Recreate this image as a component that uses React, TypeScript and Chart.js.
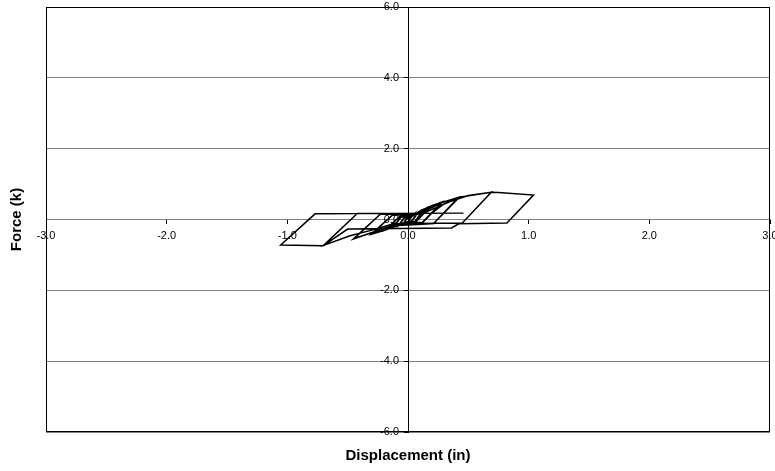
import React, { useEffect, useRef } from "react";
import { Chart, registerables } from "chart.js";

Chart.register(...registerables);

// Tick labels
const xTickLabels = ["-3.0", "-2.0", "-1.0", "0.0", "1.0", "2.0", "3.0"];
const yTickLabels = ["-6.0", "-4.0", "-2.0", "0.0", "2.0", "4.0", "6.0"];

// Hysteresis cycles: displacement (in) and force (k)
const c1Disp = [0, 0.04, 0.0, -0.04, 0.0, 0.04, 0.0, -0.04, -0.01];
const c1Force = [0, 0.12, -0.06, -0.12, 0.06, 0.12, -0.06, -0.12, 0.05];

const c2Disp = [0.08, 0.03, -0.02, -0.08, -0.03, 0.02, 0.08, 0.03, -0.02, -0.08, -0.03];
const c2Force = [0.18, -0.04, -0.08, -0.18, 0.05, 0.08, 0.17, -0.05, -0.09, -0.17, 0.06];

const c3Disp = [0.04, 0.12, 0.06, -0.04, -0.12, -0.06, 0.04, 0.12, 0.06, -0.05, -0.12, -0.06];
const c3Force = [0.1, 0.24, -0.05, -0.1, -0.22, 0.06, 0.11, 0.23, -0.06, -0.11, -0.21, 0.07];

const c4Disp = [0.04, 0.11, 0.18, 0.06, -0.05, -0.12, -0.19, -0.07, 0.05, 0.18, 0.07, -0.06, -0.19, -0.07];
const c4Force = [0.11, 0.26, 0.36, -0.05, -0.1, -0.22, -0.3, 0.08, 0.12, 0.34, -0.05, -0.11, -0.29, 0.08];

const c5Disp = [0.06, 0.16, 0.28, 0.12, -0.08, -0.18, -0.3, -0.13, 0.08, 0.28, 0.12, -0.1, -0.3, -0.13];
const c5Force = [0.13, 0.34, 0.49, -0.08, -0.12, -0.29, -0.41, 0.12, 0.15, 0.47, -0.09, -0.14, -0.4, 0.12];

const c6Disp = [0.1, 0.2, 0.42, 0.21, -0.1, -0.28, -0.45, -0.23, 0.12, 0.42, 0.21, -0.14, -0.45, -0.23];
const c6Force = [0.17, 0.4, 0.63, -0.12, -0.14, -0.35, -0.55, 0.15, 0.17, 0.61, -0.12, -0.18, -0.54, 0.15];

const c7Disp = [0.12, 0.22, 0.45, 0.69, 0.45, -0.12, -0.3, -0.48, -0.7, -0.42];
const c7Force = [0.16, 0.42, 0.64, 0.77, -0.1, -0.12, -0.3, -0.46, -0.73, 0.17];

const c8Disp = [0.2, 0.3, 0.5, 0.69, 0.75, 1.04, 0.82, 0.42, 0.36, -0.5, -0.62, -0.7, -1.055, -0.77, 0.46];
const c8Force = [0.18, 0.45, 0.68, 0.77, 0.76, 0.69, -0.1, -0.12, -0.24, -0.27, -0.55, -0.74, -0.72, 0.16, 0.18];

const cycles: [number[], number[]][] = [
  [c1Disp, c1Force],
  [c2Disp, c2Force],
  [c3Disp, c3Force],
  [c4Disp, c4Force],
  [c5Disp, c5Force],
  [c6Disp, c6Force],
  [c7Disp, c7Force],
  [c8Disp, c8Force],
];

const FONT = "'Liberation Sans', Arial, sans-serif";

// Draws the plot-area frame
const framePlugin = {
  id: "frame",
  afterDatasetsDraw(chart: any) {
    const { ctx, chartArea } = chart;
    ctx.save();
    ctx.strokeStyle = "#000";
    ctx.lineWidth = 1;
    const l = Math.round(chartArea.left) + 0.5;
    const t = Math.round(chartArea.top) + 0.5;
    const r = Math.round(chartArea.right) - 0.5;
    const b = Math.round(chartArea.bottom) - 0.5;
    ctx.strokeRect(l, t, r - l, b - t);
    ctx.restore();
  },
};

// Places the tick labels of the crossing axes beside their axis lines
const labelPlacePlugin = {
  id: "labelPlace",
  beforeDraw(chart: any) {
    const xs = chart.scales.x;
    const ys = chart.scales.y;
    const axisX = xs.getPixelForValue(0);
    const axisY = ys.getPixelForValue(0);
    ys.getLabelItems().forEach((it: any) => {
      it.options.translation[0] = axisX - 9;
      it.options.textAlign = "right";
    });
    xs.getLabelItems().forEach((it: any) => {
      it.options.translation[1] = axisY + 10;
    });
  },
};

export default function App() {
  const ref = useRef<HTMLCanvasElement | null>(null);

  useEffect(() => {
    document.body.style.margin = "0";
    const canvas = ref.current;
    if (!canvas) return;
    const points: { x: number; y: number }[] = [];
    cycles.forEach(([d, f]) => {
      d.forEach((x, i) => points.push({ x, y: f[i] }));
    });

    const chart = new Chart(canvas, {
      type: "scatter",
      data: {
        datasets: [
          {
            data: points,
            showLine: true,
            borderColor: "#000",
            borderWidth: 1.5,
            pointRadius: 0,
            pointHoverRadius: 0,
            fill: false,
            tension: 0,
          },
        ],
      },
      options: {
        animation: false,
        responsive: false,
        devicePixelRatio: 1,
        layout: { padding: { top: 7, right: 5, left: 0, bottom: 0 } },
        plugins: {
          legend: { display: false },
          tooltip: { enabled: false },
          title: {
            display: true,
            text: "Displacement (in)",
            position: "bottom",
            fullSize: false,
            color: "#000",
            font: { family: FONT, size: 15, weight: "bold" },
            padding: { top: 15, bottom: 6 },
          },
          subtitle: {
            display: true,
            text: "Force (k)",
            position: "left",
            fullSize: false,
            color: "#000",
            font: { family: FONT, size: 15, weight: "bold" },
            padding: { top: 8, bottom: 20 },
          },
        },
        scales: {
          x: {
            type: "linear",
            min: -3,
            max: 3,
            position: { y: 0 } as any,
            afterFit: (s: any) => {
              s.paddingLeft = 0;
              s.paddingRight = 0;
            },
            ticks: {
              stepSize: 1,
              autoSkip: false,
              maxRotation: 0,
              padding: 6,
              color: "#000",
              font: { family: FONT, size: 11 },
              callback: (_v: any, i: number) => xTickLabels[i],
            },
            grid: {
              drawOnChartArea: false,
              drawTicks: true,
              tickLength: 4,
              tickColor: "#000",
            },
            border: { color: "#808080", width: 1 },
          },
          y: {
            type: "linear",
            min: -6,
            max: 6,
            position: { x: 0 } as any,
            afterFit: (s: any) => {
              s.paddingTop = 0;
              s.paddingBottom = 0;
            },
            ticks: {
              stepSize: 2,
              autoSkip: false,
              padding: 5,
              color: "#000",
              font: { family: FONT, size: 11 },
              callback: (_v: any, i: number) => yTickLabels[i],
            },
            grid: {
              color: "#808080",
              lineWidth: 1,
              drawTicks: true,
              tickLength: 4,
              tickColor: "#000",
            },
            border: { color: "#000", width: 1 },
          },
        },
      },
      plugins: [labelPlacePlugin, framePlugin],
    });
    return () => chart.destroy();
  }, []);

  return (
    <canvas
      ref={ref}
      width={775}
      height={471}
      style={{ display: "block", width: 775, height: 471 }}
    />
  );
}
